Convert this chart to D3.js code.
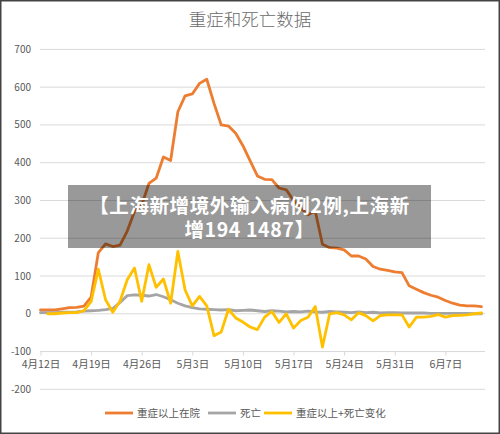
<!DOCTYPE html>
<html>
<head>
<meta charset="utf-8">
<script src="https://cdn.jsdelivr.net/npm/d3@7"></script>
<style>
  html, body { margin: 0; padding: 0; background: #fff; }
  #wrap { position: relative; width: 500px; height: 434px; }
  svg { display: block; }
  #banner {
    position: absolute; left: 68px; top: 185px; width: 363px; height: 63px;
    box-sizing: border-box; padding-top: 8px;
    background: rgba(0,0,0,0.4); color: #fff; text-align: center;
    font-family: 'Noto Sans CJK SC', 'Noto Sans', sans-serif; font-weight: bold;
    font-size: 19.5px; line-height: 23.5px; letter-spacing: 0.6px; white-space: pre;
  }
</style>
</head>
<body>
<div id="wrap">
<svg id="chart" width="500" height="434"></svg>
<div id="banner"></div>
</div>
<script>
// ---- data ----
const tickDays = [0, 7, 14, 21, 28, 35, 42, 49, 56];
const tickLabels = ["4月12日","4月19日","4月26日","5月3日","5月10日","5月17日","5月24日","5月31日","6月7日"];
const yTicks = [700, 600, 500, 400, 300, 200, 100, 0, -100, -200];

// 重症以上在院 (day 0 = 4月12日)
const severe = [10,10,10,13,16,17,20,44,162,185,178,182,219,271,288,345,359,415,406,535,
  577,582,610,621,557,500,497,478,445,405,365,356,355,333,328,300,280,262,272,184,
  175,174,169,153,153,145,125,118,115,111,109,74,65,56,49,44,35,28,23,21,21,19];
// 死亡
const deaths = [3,3,3,4,4,5,7,8,9,11,14,30,48,50,49,47,51,45,37,28,
  21,16,13,12,11,10,11,8,9,10,8,6,8,7,5,6,5,7,5,4,
  6,5,4,3,5,3,4,2,3,3,2,2,2,2,1,1,1,1,1,1,0,0];
// 重症以上+死亡变化
const change = [null,0,0,2,3,3,8,32,118,37,4,33,90,121,33,130,70,92,28,165,
  63,21,46,21,-58,-48,12,-11,-22,-35,-42,-9,6,-23,0,-38,-18,-9,19,-88,
  0,3,-3,-16,3,-5,-19,-5,-3,-3,-3,-35,-9,-9,-7,-2,-9,-5,-4,-3,0,2];

const seriesNames = ["重症以上在院", "死亡", "重症以上+死亡变化"];
const seriesColors = ["#ED7D31", "#A5A5A5", "#FFC000"];
const title = "重症和死亡数据";
const bannerLines = ["【上海新增境外输入病例2例,上海新", "增194 1487】"];

// ---- chart ----
const svg = d3.select("#chart");
const font = "'Noto Sans CJK SC', 'Noto Sans', sans-serif";
const textColor = "#595959";

const x = d3.scaleLinear().domain([0, 61]).range([40.5, 481.5]);
const y = d3.scaleLinear().domain([-200, 700]).range([389.3, 49.4]);
const gridX0 = 40, gridX1 = 485;

// border
svg.append("rect").attr("x", 0).attr("y", 0).attr("width", 500).attr("height", 434)
  .attr("fill", "#fff").attr("stroke", "#444").attr("stroke-width", 3);

// title
svg.append("text").attr("x", 250).attr("y", 26).attr("text-anchor", "middle")
  .attr("font-family", font).attr("font-size", 17.5).attr("font-weight", 300)
  .attr("fill", "#6a6a6a").text(title);

// gridlines
svg.append("g").selectAll("line").data(yTicks).join("line")
  .attr("x1", gridX0).attr("x2", gridX1)
  .attr("y1", d => y(d)).attr("y2", d => y(d))
  .attr("stroke", "#d9d9d9").attr("stroke-width", 1);

// y labels
svg.append("g").selectAll("text").data(yTicks).join("text")
  .attr("x", 31).attr("y", d => y(d)).attr("dy", "0.35em")
  .attr("text-anchor", "end").attr("font-family", font).attr("font-size", 10)
  .attr("fill", textColor).text(d => d);

// x axis at -100
const xAxis = d3.axisBottom(x).tickValues(tickDays)
  .tickFormat((d, i) => tickLabels[i]).tickSize(4).tickSizeOuter(0);
const gx = svg.append("g").attr("transform", `translate(0,${y(-100)})`).call(xAxis);
gx.select(".domain").attr("stroke", "#d9d9d9").attr("d", `M${gridX0},0H${gridX1}`);
gx.selectAll(".tick line").attr("stroke", "#d9d9d9");
gx.selectAll(".tick text").attr("font-family", font).attr("font-size", 10.5)
  .attr("fill", textColor).attr("y", 9);

// lines
const allSeries = [severe, deaths, change];
const line = d3.line().defined(d => d !== null).x((d, i) => x(i)).y(d => y(d));
allSeries.forEach((s, k) => {
  svg.append("path").datum(s).attr("d", line)
    .attr("fill", "none").attr("stroke", seriesColors[k]).attr("stroke-width", 2.8)
    .attr("stroke-linejoin", "round").attr("stroke-linecap", "round");
});

// legend
const legendX = [105, 208, 264];
const lg = svg.append("g");
seriesNames.forEach((n, k) => {
  lg.append("line").attr("x1", legendX[k]).attr("x2", legendX[k] + 28)
    .attr("y1", 413).attr("y2", 413).attr("stroke", seriesColors[k]).attr("stroke-width", 2.8);
  lg.append("text").attr("x", legendX[k] + 32).attr("y", 413).attr("dy", "0.35em")
    .attr("font-family", font).attr("font-size", 10.5).attr("fill", textColor).text(n);
});

// banner overlay: one text block wrapping onto two lines
d3.select("#banner").text(bannerLines.join("\n"));
</script>
</body>
</html>
